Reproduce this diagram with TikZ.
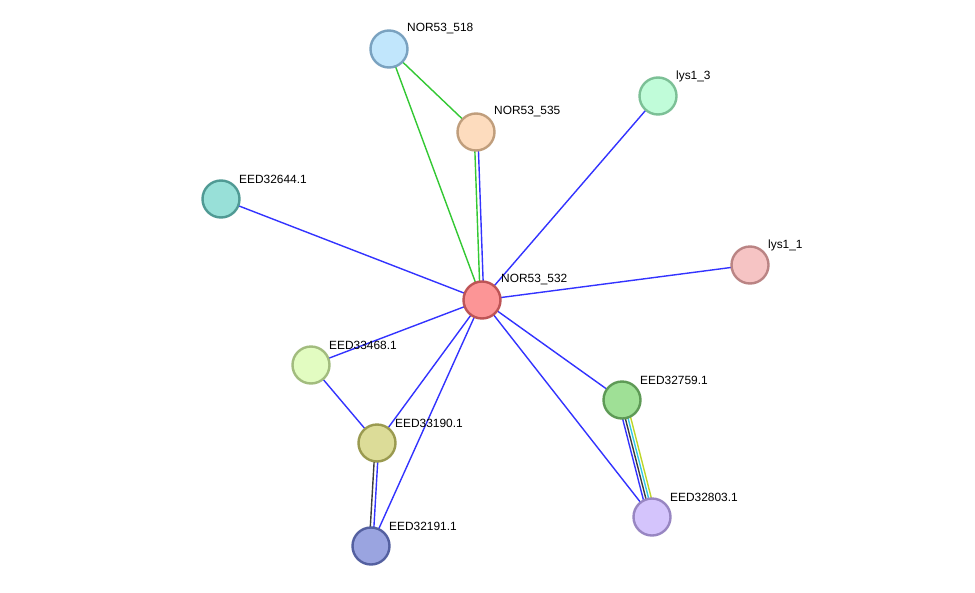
\documentclass[tikz,border=0pt]{standalone}
\usepackage{fontspec}
\setmainfont{Liberation Sans}
\begin{document}
\begin{tikzpicture}[x=1pt,y=-1pt,
  prot/.style={circle,minimum size=37pt,inner sep=0pt,line width=2.4pt},
  lbl/.style={anchor=west,inner sep=0pt,font=\fontsize{11.9}{13}\selectfont,text=black},
  eb/.style={draw={rgb,255:red,51;green,51;blue,255},line width=1.4pt},
  eg/.style={draw={rgb,255:red,51;green,200;blue,51},line width=1.4pt},
  ek/.style={draw={rgb,255:red,60;green,60;blue,60},line width=1.4pt},
  ec/.style={draw={rgb,255:red,51;green,200;blue,230},line width=1.4pt},
  ey/.style={draw={rgb,255:red,190;green,215;blue,40},line width=1.4pt}]
\useasboundingbox (0,0) rectangle (975,592);
\fill[white] (0,0) rectangle (975,592);
% coordinates
\coordinate (c518) at (389,49);
\coordinate (c535) at (476,132);
\coordinate (c3) at (658,96);
\coordinate (c644) at (221,199);
\coordinate (c1) at (750,265);
\coordinate (c532) at (482,300);
\coordinate (c468) at (311,365);
\coordinate (c759) at (622,400);
\coordinate (c190) at (377,443);
\coordinate (c803) at (652,517);
\coordinate (c191) at (371,546);
% edges
\draw[eg] (c518) -- (c535);
\draw[eg] (c518) -- (c532);
\draw[eg,transform canvas={xshift=-1.8pt}] (c535) -- (c532);
\draw[eb,transform canvas={xshift=1.8pt}] (c535) -- (c532);
\draw[eb] (c3) -- (c532);
\draw[eb] (c644) -- (c532);
\draw[eb] (c1) -- (c532);
\draw[eb] (c468) -- (c532);
\draw[eb] (c468) -- (c190);
\draw[eb] (c190) -- (c532);
\draw[eb] (c191) -- (c532);
\draw[eb] (c759) -- (c532);
\draw[eb] (c803) -- (c532);
\draw[ek,transform canvas={xshift=-1.8pt}] (c190) -- (c191);
\draw[eb,transform canvas={xshift=1.8pt}] (c190) -- (c191);
\draw[eb,transform canvas={xshift=-4.2pt}] (c759) -- (c803);
\draw[ek,transform canvas={xshift=-1.4pt}] (c759) -- (c803);
\draw[ec,transform canvas={xshift=1.4pt}] (c759) -- (c803);
\draw[ey,transform canvas={xshift=4.2pt}] (c759) -- (c803);
% nodes
\node[prot,fill={rgb,255:red,193;green,230;blue,252},draw={rgb,255:red,122;green,162;blue,192}] (n518) at (c518) {};
\node[prot,fill={rgb,255:red,253;green,220;blue,190},draw={rgb,255:red,192;green,158;blue,124}] (n535) at (c535) {};
\node[prot,fill={rgb,255:red,192;green,252;blue,217},draw={rgb,255:red,124;green,192;blue,150}] (n3) at (c3) {};
\node[prot,fill={rgb,255:red,152;green,224;blue,216},draw={rgb,255:red,80;green,154;blue,148}] (n644) at (c644) {};
\node[prot,fill={rgb,255:red,246;green,196;blue,196},draw={rgb,255:red,186;green,132;blue,132}] (n1) at (c1) {};
\node[prot,fill={rgb,255:red,252;green,149;blue,150},draw={rgb,255:red,190;green,84;blue,86}] (n532) at (c532) {};
\node[prot,fill={rgb,255:red,226;green,252;blue,193},draw={rgb,255:red,162;green,188;blue,126}] (n468) at (c468) {};
\node[prot,fill={rgb,255:red,159;green,224;blue,150},draw={rgb,255:red,94;green,154;blue,86}] (n759) at (c759) {};
\node[prot,fill={rgb,255:red,220;green,220;blue,152},draw={rgb,255:red,154;green,154;blue,80}] (n190) at (c190) {};
\node[prot,fill={rgb,255:red,212;green,196;blue,252},draw={rgb,255:red,152;green,134;blue,194}] (n803) at (c803) {};
\node[prot,fill={rgb,255:red,154;green,164;blue,224},draw={rgb,255:red,84;green,96;blue,160}] (n191) at (c191) {};
% labels
\node[lbl] (l518) at ([shift={(18,-20)}]c518) {NOR53\_518};
\node[lbl] (l535) at ([shift={(18,-20)}]c535) {NOR53\_535};
\node[lbl] (l3) at ([shift={(18,-20)}]c3) {lys1\_3};
\node[lbl] (l644) at ([shift={(18,-20)}]c644) {EED32644.1};
\node[lbl] (l1) at ([shift={(18,-20)}]c1) {lys1\_1};
\node[lbl] (l532) at ([shift={(19,-20)}]c532) {NOR53\_532};
\node[lbl] (l468) at ([shift={(18,-20)}]c468) {EED33468.1};
\node[lbl] (l759) at ([shift={(18,-20)}]c759) {EED32759.1};
\node[lbl] (l190) at ([shift={(18,-20)}]c190) {EED33190.1};
\node[lbl] (l803) at ([shift={(18,-20)}]c803) {EED32803.1};
\node[lbl] (l191) at ([shift={(18,-20)}]c191) {EED32191.1};
\end{tikzpicture}
\end{document}
